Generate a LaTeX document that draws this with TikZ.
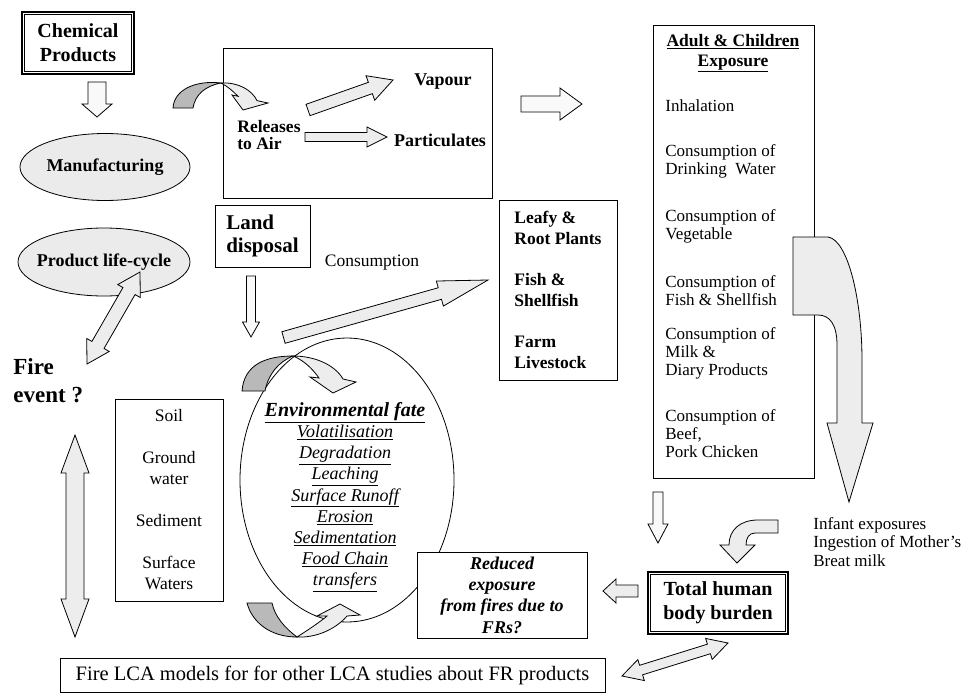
\documentclass[tikz,border=0pt]{standalone}
\usepackage{fontspec}
\setmainfont{Liberation Serif}
\usetikzlibrary{calc,shapes.geometric}
\newcommand\fs[2]{\fontsize{#1}{#2}\selectfont}
% block arrow: [style]{start}{tip}{shaft half width}{head half width}{head length}
\newcommand\blockarrow[6][]{%
  \coordinate (bahb) at ($(#3)!#6!(#2)$);
  \draw[#1] ($(#2)!#4!90:(#3)$) -- ($(bahb)!#4!90:(#3)$) -- ($(bahb)!#5!90:(#3)$) -- (#3)
    -- ($(bahb)!#5!-90:(#3)$) -- ($(bahb)!#4!-90:(#3)$) -- ($(#2)!#4!-90:(#3)$) -- cycle;}
% double block arrow
\newcommand\dblarrow[6][]{%
  \coordinate (dahA) at ($(#2)!#6!(#3)$);
  \coordinate (dahB) at ($(#3)!#6!(#2)$);
  \draw[#1] (#2) -- ($(dahA)!#5!90:(#3)$) -- ($(dahA)!#4!90:(#3)$) -- ($(dahB)!#4!-90:(#2)$)
    -- ($(dahB)!#5!-90:(#2)$) -- (#3) -- ($(dahB)!#5!90:(#2)$) -- ($(dahB)!#4!90:(#2)$)
    -- ($(dahA)!#4!-90:(#3)$) -- ($(dahA)!#5!-90:(#3)$) -- cycle;}
\begin{document}
\begin{tikzpicture}[x=1pt,y=-1pt,line width=0.8pt,
  box/.style={draw, fill=white, inner sep=0pt},
  txt/.style={inner sep=0pt, align=center},
  lite/.style={draw, fill=gray!14, line join=miter},
  dark/.style={draw, fill=gray!55},
  hollow/.style={draw, fill=gray!5, line join=miter},
  blob/.style={ellipse, draw, fill=gray!16, inner sep=0pt}]
\useasboundingbox (0,0) rectangle (970,694);

% ---------- left column ----------
\node[box, line width=2.4pt, minimum width=112pt, minimum height=62pt, align=center,
      font=\bfseries\fs{20}{24}] (chem) at (78,43) {Chemical\\Products};
\draw[line width=0.7pt] ([shift={(4,4)}]chem.north west) rectangle ([shift={(-4,-4)}]chem.south east);

\node[blob, minimum width=170pt, minimum height=67pt] (manu) at (105,167) {};
\node[txt, font=\bfseries\fs{18}{21}] (manut) at (manu) {Manufacturing};
\node[blob, minimum width=172pt, minimum height=68pt] (plc) at (104,262) {};
\node[txt, font=\bfseries\fs{18}{21}] (plct) at (plc) {Product life-cycle};

\coordinate (a1s) at (97,82); \coordinate (a1e) at (97,117);
\blockarrow[hollow]{a1s}{a1e}{9pt}{15pt}{13pt}

\node[txt, align=left, anchor=west, font=\bfseries\fs{23}{28}] (fire) at (13,381) {Fire\\event ?};

\coordinate (d1a) at (140,272); \coordinate (d1b) at (87,364);
\dblarrow[lite]{d1a}{d1b}{7pt}{13pt}{22pt}

\coordinate (d2a) at (75,435); \coordinate (d2b) at (75,637);
\dblarrow[lite]{d2a}{d2b}{9pt}{14pt}{38pt}

\node[box, minimum width=108pt, minimum height=202pt, align=center, font=\fs{17.5}{21}] (soil) at (169,500)
  {Soil\\[21pt]Ground\\water\\[21pt]Sediment\\[21pt]Surface\\Waters};

% ---------- environmental fate ----------
\node[ellipse, draw, minimum width=214pt, minimum height=284pt, inner sep=0pt] (env) at (347,480) {};
\node[txt, font=\itshape\fs{18}{21.2}] (envt) at (345,497)
  {{\bfseries\fs{20}{21.2}\underline{Environmental fate}}\\\underline{Volatilisation}\\\underline{Degradation}\\
   \underline{Leaching}\\\underline{Surface Runoff}\\\underline{Erosion}\\\underline{Sedimentation}\\
   \underline{Food Chain}\\\underline{transfers}};

% top curved arrow on ellipse
\draw[dark] (242,391) .. controls (244,365) and (265,356) .. (293,356)
  .. controls (278,362) and (268,375) .. (265,391) -- cycle;
\draw[lite] (293,356) .. controls (315,356) and (335,365) .. (343,379) -- (356,382) -- (333,393)
  -- (310,377) -- (319,378) .. controls (312,368) and (303,360) .. (293,356) -- cycle;
% bottom curved arrow on ellipse
\draw[dark] (247,603) .. controls (252,622) and (270,637) .. (297,637)
  .. controls (285,628) and (275,617) .. (272,603) -- cycle;
\draw[lite] (297,637) .. controls (308,630) and (320,622) .. (327,616) -- (317,616) -- (340,604)
  -- (360,615) -- (347,616) .. controls (335,630) and (315,638) .. (297,637) -- cycle;

% ---------- land disposal ----------
\node[box, minimum width=95pt, minimum height=62pt, align=left, font=\bfseries\fs{21}{23}] (land) at (262.5,236) {Land\\disposal};
\coordinate (a2s) at (251,276); \coordinate (a2e) at (251,337);
\blockarrow[hollow]{a2s}{a2e}{4.5pt}{8.5pt}{15pt}

\coordinate (a3s) at (283.5,337.5); \coordinate (a3e) at (488,280);
\blockarrow[lite]{a3s}{a3e}{6pt}{13pt}{50pt}
\node[txt, font=\fs{17.5}{20}] (cons) at (372,263) {Consumption};

\node[box, minimum width=118pt, minimum height=180pt, align=left, font=\bfseries\fs{17.5}{21}] (leafy) at (558,290)
  {Leafy \&\\Root Plants\\[20pt]Fish \&\\Shellfish\\[20pt]Farm\\Livestock};

% ---------- releases to air ----------
\node[box, minimum width=269pt, minimum height=150pt] (air) at (357.5,123) {};
\node[txt, align=left, anchor=west, font=\bfseries\fs{17.5}{17}] (rel) at (237,135.5) {Releases\\to Air};
\node[txt, font=\bfseries\fs{18}{20}] (vap) at (443,82) {Vapour};
\node[txt, font=\bfseries\fs{18}{20}] (part) at (440,140) {Particulates};
\coordinate (a4s) at (308,110); \coordinate (a4e) at (393,80);
\blockarrow[lite]{a4s}{a4e}{6pt}{13pt}{24pt}
\coordinate (a5s) at (305,137); \coordinate (a5e) at (387,137);
\blockarrow[lite]{a5s}{a5e}{4.5pt}{10pt}{20pt}
% curved arrow into the air box
\draw[dark] (173,108) .. controls (174,90) and (195,80) .. (221,83)
  .. controls (205,86) and (195,95) .. (193,108) -- cycle;
\draw[lite] (221,83) .. controls (238,82) and (252,90) .. (257,100.6) -- (268,103) -- (243,110)
  -- (232,95) -- (238,96.3) .. controls (233,91) and (227,86) .. (221,83) -- cycle;

\coordinate (a6s) at (521,104); \coordinate (a6e) at (582,104);
\blockarrow[hollow]{a6s}{a6e}{8pt}{16pt}{22pt}

% ---------- exposure column ----------
\node[box, minimum width=161pt, minimum height=453pt] (adult) at (733.5,251.5) {};
\node[txt, font=\bfseries\fs{17.5}{20}] (adt) at (733,53) {\underline{Adult \& Children}\\\underline{Exposure}};
\begin{scope}[every node/.style={txt, align=left, anchor=west, font=\fs{17}{18}}]
\node (i1) at (665,106) {Inhalation};
\node (i2) at (665,161) {Consumption of\\Drinking\ \ Water};
\node (i3) at (665,226.5) {Consumption of\\Vegetable};
\node (i4) at (665,291) {Consumption of\\Fish \& Shellfish};
\node (i5) at (665,353) {Consumption of\\Milk \&\\Diary Products};
\node (i6) at (665,434) {Consumption of\\Beef,\\Pork Chicken};
\end{scope}

\draw[lite] (793,237) -- (828,237) .. controls (848,240) and (862,300) .. (862,360) -- (862,423)
  -- (873,423) -- (849,502) -- (827,423) -- (837,423) -- (837,345)
  .. controls (837,325) and (830,315) .. (818,315) -- (793,315) -- cycle;

\coordinate (a7s) at (658,492); \coordinate (a7e) at (658,543);
\blockarrow[hollow]{a7s}{a7e}{5pt}{10pt}{19pt}

\draw[lite] (778,520) -- (778,533) -- (755,533) .. controls (749,533) and (746,538) .. (746,545)
  -- (755,545) -- (737,563) -- (720,545) -- (729,545) .. controls (729,530) and (740,520) .. (758,520) -- cycle;
\node[txt, align=left, anchor=west, font=\fs{17}{18.5}] (inf) at (813,542)
  {Infant exposures\\Ingestion of Mother’s\\Breat milk};

% ---------- bottom ----------
\node[box, line width=2.4pt, minimum width=140pt, minimum height=62pt, align=center,
      font=\bfseries\fs{20}{24}] (total) at (718,603) {Total human\\body burden};
\draw[line width=0.7pt] ([shift={(4,4)}]total.north west) rectangle ([shift={(-4,-4)}]total.south east);

\coordinate (a8s) at (638,591); \coordinate (a8e) at (603,591);
\blockarrow[lite]{a8s}{a8e}{6pt}{12pt}{13pt}

\node[box, minimum width=170pt, minimum height=86pt, align=center, font=\bfseries\itshape\fs{18}{21.3}] (red) at (502,595)
  {Reduced\\exposure\\from fires due to\\FRs?};

\node[box, minimum width=545pt, minimum height=34pt, font=\fs{20.5}{24}] (lca) at (332.5,675)
  {Fire LCA models for for other LCA studies about FR products};

\coordinate (d3a) at (622,676); \coordinate (d3b) at (728,643);
\dblarrow[lite]{d3a}{d3b}{5pt}{11pt}{20pt}
\end{tikzpicture}
\end{document}
